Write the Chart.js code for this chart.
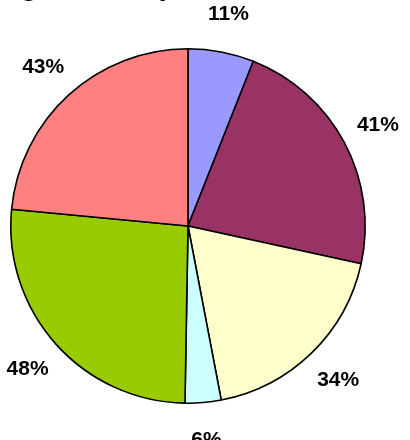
<!DOCTYPE html>
<html><head><meta charset="utf-8">
<script src="https://cdn.jsdelivr.net/npm/chart.js@4"></script>
<style>html,body{margin:0;padding:0;background:#fff;overflow:hidden}</style>
</head><body>
<canvas id="c" width="410" height="440" style="display:block;width:410px;height:440px"></canvas>
<script>
// Data (clockwise from 12 o'clock)
const categories = ['11%', '41%', '34%', '6%', '48%', '43%'];
const sliceValues = [11, 41, 34, 6, 48, 43];
const sliceColors = ['#9999FF', '#993366', '#FFFFCC', '#CCFFFF', '#99CC00', '#FF8080'];
const titleText = 'Reading Grades per Student';

const FONT = '"Liberation Sans", Arial, sans-serif';

const titlePlugin = {
  id: 'croppedTitle',
  afterDraw(chart) {
    const ctx = chart.ctx;
    ctx.save();
    ctx.font = 'bold 30px ' + FONT;
    ctx.fillStyle = '#000';
    ctx.textAlign = 'left';
    ctx.textBaseline = 'alphabetic';
    const lead = ctx.measureText('Readin').width;
    ctx.fillText(titleText, 20 - lead, -5);
    ctx.restore();
  }
};

const labelPlugin = {
  id: 'outsideLabels',
  afterDraw(chart) {
    const ctx = chart.ctx;
    const meta = chart.getDatasetMeta(0);
    ctx.save();
    ctx.font = 'bold 21px ' + FONT;
    ctx.fillStyle = '#000';
    ctx.textAlign = 'center';
    ctx.textBaseline = 'middle';
    meta.data.forEach((arc, i) => {
      const p = arc.getProps(['x', 'y', 'startAngle', 'endAngle', 'outerRadius'], true);
      const mid = (p.startAngle + p.endAngle) / 2;
      const r = p.outerRadius + 38;
      ctx.fillText(categories[i], p.x + Math.cos(mid) * r, p.y + Math.sin(mid) * r);
    });
    ctx.restore();
  }
};

new Chart(document.getElementById('c'), {
  type: 'pie',
  data: {
    labels: categories,
    datasets: [{
      data: sliceValues,
      backgroundColor: sliceColors,
      borderColor: '#000000',
      borderWidth: 1.6
    }]
  },
  options: {
    responsive: false,
    animation: false,
    layout: { padding: { left: 10, right: 44, top: 48, bottom: 36 } },
    plugins: {
      legend: { display: false },
      tooltip: { enabled: false },
      title: { display: false }
    }
  },
  plugins: [titlePlugin, labelPlugin]
});
</script>
</body></html>
